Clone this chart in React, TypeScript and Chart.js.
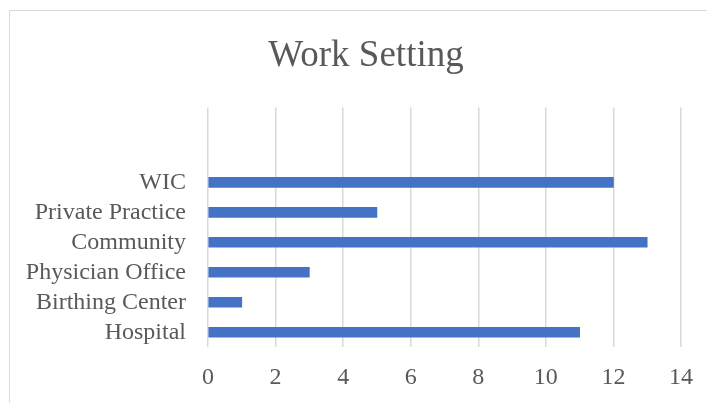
import React, { useEffect, useRef } from "react";
import { Chart, registerables } from "chart.js";

Chart.register(...registerables);

const title = "Work Setting";
const categories = ["WIC", "Private Practice", "Community", "Physician Office", "Birthing Center", "Hospital"];
const counts = [12, 5, 13, 3, 1, 11];
const emptySlots = ["", ""];
const xMin = 0;
const xMax = 14;
const xStep = 2;

export default function App() {
  const ref = useRef<HTMLCanvasElement | null>(null);

  useEffect(() => {
    if (!ref.current) return;
    const labels = [...emptySlots, ...categories];
    const data = [...emptySlots.map(() => null), ...counts];
    const font = "'Liberation Serif', 'Times New Roman', serif";
    const chart = new Chart(ref.current, {
      type: "bar",
      data: {
        labels,
        datasets: [
          {
            data,
            backgroundColor: "#4472C4",
            borderWidth: 0,
            barThickness: 10,
          },
        ],
      },
      options: {
        indexAxis: "y",
        animation: false,
        responsive: false,
        devicePixelRatio: 1,
        layout: { padding: { left: 0, right: 0, top: 0, bottom: 23 } },
        plugins: {
          legend: { display: false },
          tooltip: { enabled: false },
          title: {
            display: true,
            text: title,
            color: "#595959",
            font: { family: font, size: 37, weight: "normal" },
            padding: { top: 23, bottom: 29 },
          },
        },
        scales: {
          x: {
            min: xMin,
            max: xMax,
            ticks: {
              stepSize: xStep,
              color: "#595959",
              font: { family: font, size: 24 },
              padding: 16,
              maxRotation: 0,
            },
            grid: { display: true, color: "#d9d9d9", lineWidth: 1.5, drawTicks: false },
            border: { display: false },
            afterFit: (scale: any) => {
              scale.paddingRight = 41;
              scale.paddingLeft = 0;
            },
          },
          y: {
            ticks: {
              color: "#595959",
              font: { family: font, size: 24 },
              padding: 22,
              autoSkip: false,
            },
            grid: { display: false, drawTicks: false },
            border: { display: false },
            afterFit: (scale: any) => {
              scale.width = 198;
            },
          },
        },
      },
    });
    return () => chart.destroy();
  }, []);

  return (
    <div
      style={{
        position: "fixed",
        left: 0,
        top: 0,
        width: 707,
        height: 402,
        overflow: "hidden",
        background: "#ffffff",
      }}
    >
      <div
        style={{
          position: "absolute",
          left: 9,
          top: 10,
          width: 712,
          height: 420,
          border: "1px solid #d9d9d9",
          background: "#ffffff",
        }}
      >
        <canvas ref={ref} width={712} height={420} style={{ display: "block", width: 712, height: 420 }} />
      </div>
    </div>
  );
}
